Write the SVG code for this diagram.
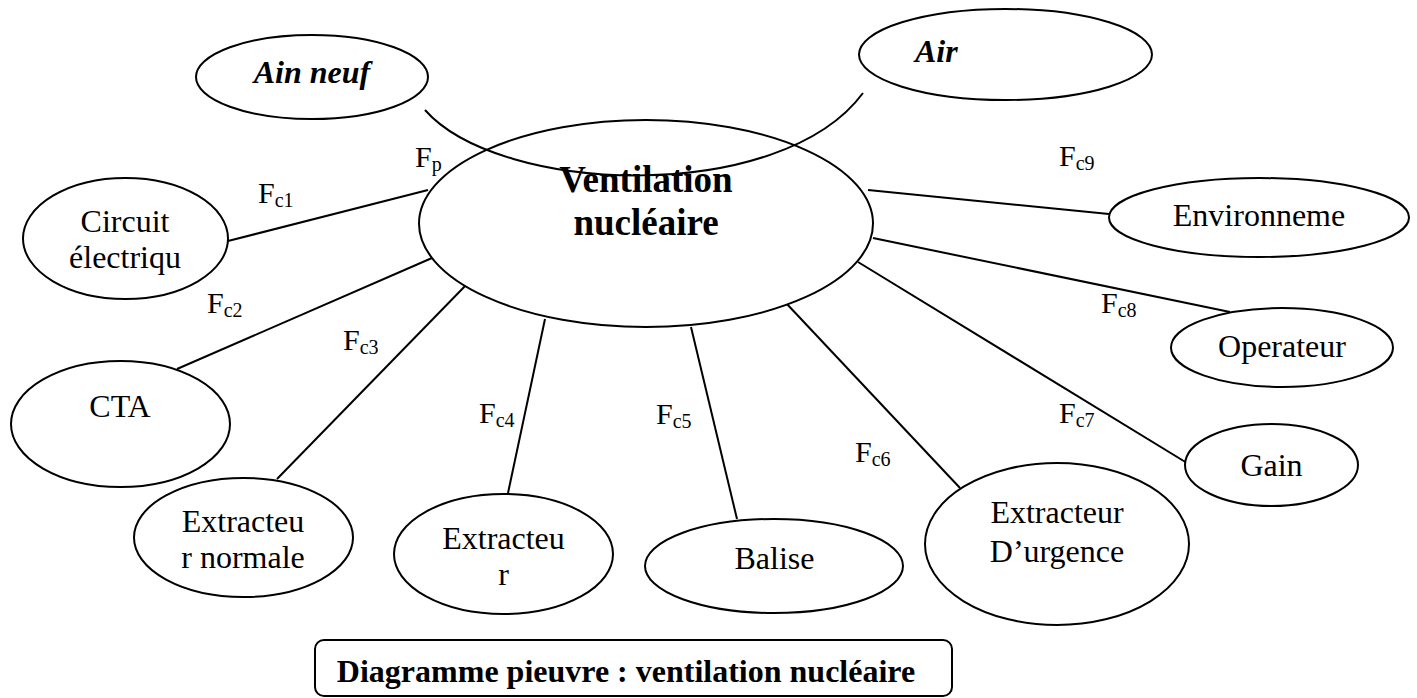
<svg xmlns="http://www.w3.org/2000/svg" width="1417" height="698" viewBox="0 0 1417 698">
<style>
.n{fill:#fff;stroke:#000;stroke-width:2}
.t{font-family:"Liberation Serif","Times New Roman",serif;font-size:32px;fill:#000;text-anchor:middle}
.bi{font-weight:bold;font-style:italic}
.b{font-weight:bold}
.c{fill:none;stroke:#000;stroke-width:2}
.l{font-family:"Liberation Serif","Times New Roman",serif;font-size:30px;fill:#000}
.s{font-size:20px}
</style>
<rect width="1417" height="698" fill="#fff"/>
<g id="connectors">
<line class="c" x1="228" y1="241" x2="428" y2="190"/>
<line class="c" x1="432" y1="258" x2="177" y2="369"/>
<line class="c" x1="468" y1="283" x2="277" y2="479"/>
<line class="c" x1="545" y1="319" x2="508" y2="493"/>
<line class="c" x1="691" y1="327" x2="737" y2="519"/>
<line class="c" x1="786" y1="303" x2="960" y2="488"/>
<line class="c" x1="858" y1="262" x2="1187" y2="463"/>
<line class="c" x1="873" y1="238" x2="1230" y2="312"/>
<line class="c" x1="868" y1="190" x2="1109" y2="214"/>
</g>
<g id="ain-neuf">
<ellipse class="n" cx="312" cy="77" rx="116" ry="42"/>
<text class="t bi" x="312" y="83">Ain neuf</text>
</g>
<g id="air">
<ellipse class="n" cx="1005.5" cy="54.5" rx="146.5" ry="45.5"/>
<text class="t bi" x="915" y="62" style="text-anchor:start">Air</text>
</g>
<g id="ventilation">
<ellipse class="n" cx="646" cy="223.5" rx="227" ry="103.5"/>
<text class="t b" x="646" y="192" style="font-size:37px">Ventilation</text>
<text class="t b" x="646" y="235" style="font-size:37px">nucléaire</text>
</g>
<g id="flux">
<path class="c" d="M425,110 C500,195 780,205 863,93"/>
</g>
<g id="circuit">
<ellipse class="n" cx="125.5" cy="238.5" rx="102.5" ry="60.5"/>
<text class="t" x="125" y="232">Circuit</text>
<text class="t" x="125" y="268">électriqu</text>
</g>
<g id="cta">
<ellipse class="n" cx="120.5" cy="424" rx="109.5" ry="63"/>
<text class="t" x="120" y="417">CTA</text>
</g>
<g id="extracteur-normale">
<ellipse class="n" cx="243.5" cy="537.5" rx="109.5" ry="59.5"/>
<text class="t" x="243" y="532">Extracteu</text>
<text class="t" x="243" y="568">r normale</text>
</g>
<g id="extracteur">
<ellipse class="n" cx="503.5" cy="554" rx="109.5" ry="60"/>
<text class="t" x="503.5" y="549">Extracteu</text>
<text class="t" x="503.5" y="585">r</text>
</g>
<g id="balise">
<ellipse class="n" cx="774" cy="566" rx="129" ry="47"/>
<text class="t" x="774.5" y="569">Balise</text>
</g>
<g id="extracteur-urgence">
<ellipse class="n" cx="1057" cy="544" rx="132" ry="81"/>
<text class="t" x="1057" y="523">Extracteur</text>
<text class="t" x="1057" y="562">D’urgence</text>
</g>
<g id="gain">
<ellipse class="n" cx="1271.5" cy="465" rx="86.5" ry="41"/>
<text class="t" x="1271.5" y="476">Gain</text>
</g>
<g id="operateur">
<ellipse class="n" cx="1282" cy="347.5" rx="111" ry="39.5"/>
<text class="t" x="1282" y="357">Operateur</text>
</g>
<g id="environnement">
<ellipse class="n" cx="1259" cy="217.5" rx="150" ry="39.5"/>
<text class="t" x="1259" y="226">Environneme</text>
</g>
<g id="labels">
<text class="l" x="415" y="167">F<tspan class="s" dy="4">p</tspan></text>
<text class="l" x="258" y="203">F<tspan class="s" dy="4">c1</tspan></text>
<text class="l" x="207" y="313">F<tspan class="s" dy="4">c2</tspan></text>
<text class="l" x="343" y="350">F<tspan class="s" dy="4">c3</tspan></text>
<text class="l" x="479" y="423">F<tspan class="s" dy="4">c4</tspan></text>
<text class="l" x="656" y="424">F<tspan class="s" dy="4">c5</tspan></text>
<text class="l" x="855" y="462">F<tspan class="s" dy="4">c6</tspan></text>
<text class="l" x="1059" y="423">F<tspan class="s" dy="4">c7</tspan></text>
<text class="l" x="1101" y="313">F<tspan class="s" dy="4">c8</tspan></text>
<text class="l" x="1059" y="166">F<tspan class="s" dy="4">c9</tspan></text>
</g>
<g id="caption">
<rect x="315" y="640" width="637" height="56" rx="9" fill="#fff" stroke="#000" stroke-width="2"/>
<text class="t b" x="626" y="682">Diagramme pieuvre : ventilation nucléaire</text>
</g>
</svg>
